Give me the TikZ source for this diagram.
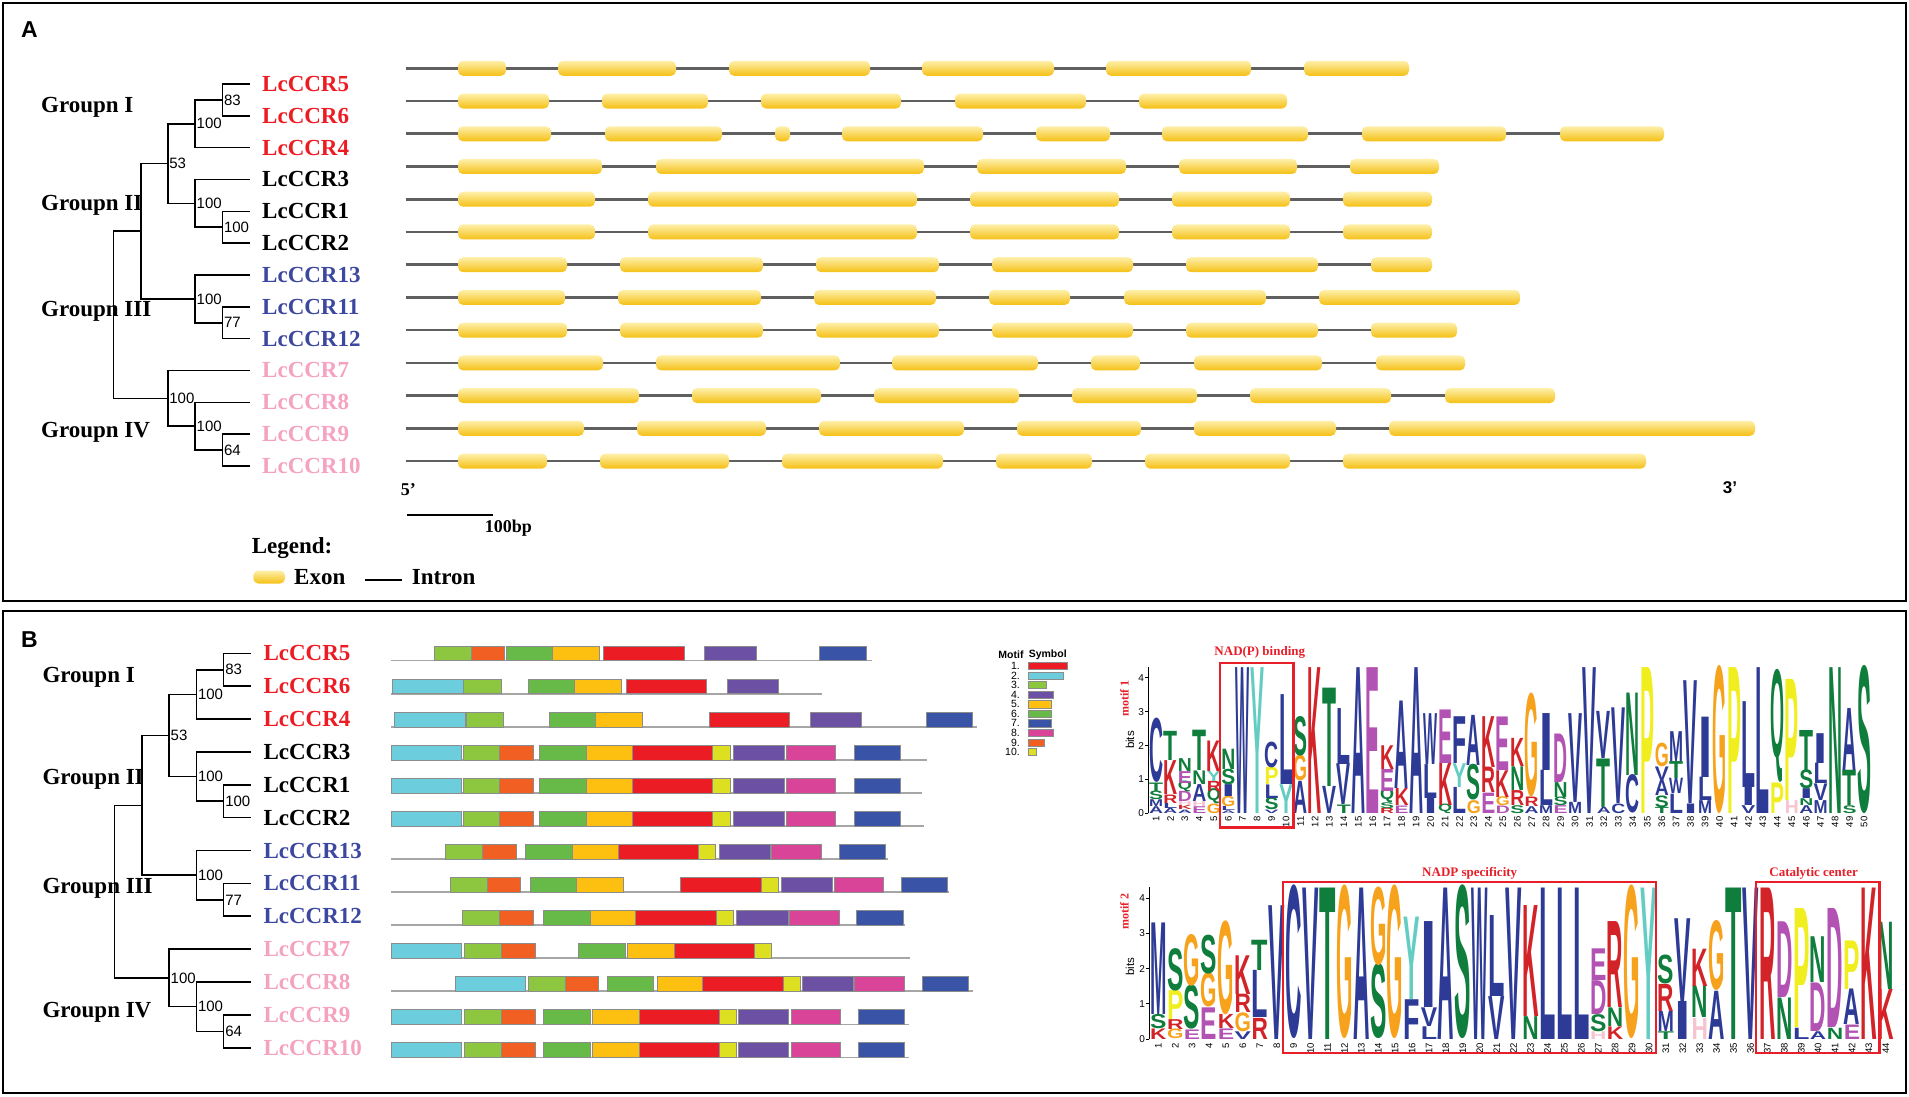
\documentclass[tikz,border=0pt]{standalone}
\usepackage{fontspec}
\setmainfont{Liberation Serif}
\setsansfont{Liberation Sans}
\usepackage{graphicx}

\definecolor{cred}{RGB}{237,28,36}
\definecolor{cblue}{RGB}{60,72,160}
\definecolor{cpink}{RGB}{245,162,192}
\definecolor{exontop}{RGB}{254,240,170}
\definecolor{exonbot}{RGB}{245,192,20}
\definecolor{introngray}{RGB}{95,95,95}
\definecolor{boxred}{RGB}{232,30,40}

\definecolor{mot1}{RGB}{236,28,36}
\definecolor{mot2}{RGB}{108,206,220}
\definecolor{mot3}{RGB}{141,198,63}
\definecolor{mot4}{RGB}{107,80,163}
\definecolor{mot5}{RGB}{254,192,16}
\definecolor{mot6}{RGB}{103,186,72}
\definecolor{mot7}{RGB}{57,84,167}
\definecolor{mot8}{RGB}{217,68,153}
\definecolor{mot9}{RGB}{241,96,34}
\definecolor{mot10}{RGB}{221,224,32}

\definecolor{lgblue}{RGB}{45,58,150}
\definecolor{lgred}{RGB}{210,35,40}
\definecolor{lggreen}{RGB}{15,125,60}
\definecolor{lgmag}{RGB}{178,82,178}
\definecolor{lgorange}{RGB}{247,162,28}
\definecolor{lgyellow}{RGB}{240,238,30}
\definecolor{lgcyan}{RGB}{100,205,195}
\definecolor{lgpink}{RGB}{246,196,208}
\colorlet{lgA}{lgblue}\colorlet{lgC}{lgblue}\colorlet{lgF}{lgblue}\colorlet{lgI}{lgblue}
\colorlet{lgL}{lgblue}\colorlet{lgM}{lgblue}\colorlet{lgV}{lgblue}\colorlet{lgW}{lgblue}
\colorlet{lgK}{lgred}\colorlet{lgR}{lgred}
\colorlet{lgN}{lggreen}\colorlet{lgQ}{lggreen}\colorlet{lgS}{lggreen}\colorlet{lgT}{lggreen}
\colorlet{lgD}{lgmag}\colorlet{lgE}{lgmag}
\colorlet{lgG}{lgorange}\colorlet{lgP}{lgyellow}\colorlet{lgY}{lgcyan}\colorlet{lgH}{lgpink}

\tikzset{
  leaf/.style={font=\fontsize{23}{23}\selectfont\bfseries, anchor=west, inner sep=0pt},
  grp/.style={font=\fontsize{23}{23}\selectfont\bfseries, anchor=west, inner sep=0pt},
  boot/.style={font=\sffamily\fontsize{15}{15}\selectfont, anchor=west, inner sep=1.5pt},
  branch/.style={line width=1.6pt},
  exon/.style={rounded corners=5pt, top color=exontop, bottom color=exonbot},
  intron/.style={draw=introngray, line width=2.6pt},
  mline/.style={draw=black!35, line width=1.5pt},
  mbox/.style={draw=black!45, line width=0.6pt},
  panel/.style={line width=2.2pt},
  panellab/.style={font=\sffamily\bfseries\fontsize{23}{23}\selectfont},
  legtext/.style={font=\fontsize{23}{23}\selectfont\bfseries, anchor=west, inner sep=0pt},
  small/.style={font=\fontsize{18}{18}\selectfont\bfseries, inner sep=0pt},
  legsans/.style={font=\sffamily\fontsize{10.5}{10.5}\selectfont, inner sep=0pt},
  logoltr/.style={font=\sffamily\bfseries, inner sep=0pt, outer sep=0pt, anchor=south},
  colnum/.style={font=\sffamily\fontsize{9.5}{9.5}\selectfont, rotate=90, anchor=east, inner sep=0.5pt},
  ticklab/.style={font=\sffamily\fontsize{10}{10}\selectfont, anchor=east, inner sep=1pt},
  axisline/.style={line width=1pt},
  motiflab/.style={font=\fontsize{12}{12}\selectfont\bfseries, text=boxred, rotate=90},
  redbox/.style={draw=boxred, line width=2.4pt},
  boxlab/.style={font=\fontsize{13}{13}\selectfont\bfseries, text=boxred}
}

% tree with labels, #1 = prefix of the names
\newcommand\cladetree[1]{%
  \foreach \nm/\i/\cl in {5/0/cred,6/1/cred,4/2/cred,3/3/black,1/4/black,2/5/black,13/6/cblue,11/7/cblue,12/8/cblue,7/9/cpink,8/10/cpink,9/11/cpink,10/12/cpink}{
    \coordinate (#1t\nm) at (250,\i);
    \node[leaf, text=\cl] (#1l\nm) at (262,\i) {LcCCR\nm};
  }
  \coordinate (#1n56) at (222.3,0.5);
  \coordinate (#1n4) at (195,1.25);
  \coordinate (#1n12) at (222.3,4.5);
  \coordinate (#1n3) at (195,3.75);
  \coordinate (#1n53) at (167.7,2.5);
  \coordinate (#1n1112) at (222.3,7.5);
  \coordinate (#1n13) at (195,6.75);
  \coordinate (#1nup) at (140.7,4.625);
  \coordinate (#1n910) at (222.3,11.5);
  \coordinate (#1n8) at (195,10.75);
  \coordinate (#1n7) at (167.7,9.875);
  \coordinate (#1root) at (113.3,7.25);
  \foreach \p/\q in {n56/t5,n56/t6,n4/n56,n4/t4,n12/t1,n12/t2,n3/t3,n3/n12,n53/n4,n53/n3,n1112/t11,n1112/t12,n13/t13,n13/n1112,nup/n53,nup/n13,n910/t9,n910/t10,n8/t8,n8/n910,n7/t7,n7/n8,root/nup,root/n7}
    \draw[branch] (#1\p) |- (#1\q);
  \foreach \p/\v in {n56/83,n4/100,n12/100,n3/100,n53/53,n1112/77,n13/100,n910/64,n8/100,n7/100}
    \node[boot] (#1b\p) at (#1\p) {\v};
  \node[grp] (#1g1) at (41,0.72) {Groupn I};
  \node[grp] (#1g2) at (41,3.82) {Groupn II};
  \node[grp] (#1g3) at (41,7.14) {Groupn III};
  \node[grp] (#1g4) at (41,10.93) {Groupn IV};
}

% one column of a logo, #1 = column, #2 = letter/bits from the bottom
\newcommand\logocol[2]{%
  \pgfmathsetmacro\lgx{\lgxo+(#1-1)*\lgstep}%
  \gdef\lgcum{0}%
  \foreach \ltr/\hgt in #2{%
    \pgfmathsetmacro\lgy{\lgbase-\lgcum*\lgunit}%
    \pgfmathsetmacro\lgh{\hgt*\lgunit}%
    \node[logoltr, text=lg\ltr] (\lgtag#1\ltr) at (\lgx,\lgy) {\resizebox{\lgwd pt}{\lgh pt}{\ltr}};
    \pgfmathsetmacro\lgnext{\lgcum+\hgt}%
    \xdef\lgcum{\lgnext}%
  }%
}

\begin{document}
\begin{tikzpicture}[x=1pt,y=-1pt]
\useasboundingbox (0,0) rectangle (1909,1096);

\draw[panel] (3,3) rectangle (1906,601);
\draw[panel] (3,611) rectangle (1906,1093);
\node[panellab] (labA) at (29.5,30) {A};
\node[panellab] (labB) at (29.5,640) {B};

\begin{scope}[shift={(0,84)},y=-31.83pt]
\cladetree{a}
\end{scope}
\begin{scope}[shift={(1.3,653.3)},y=-32.87pt]
\cladetree{b}
\end{scope}

% gene structures
\foreach \rw/\e/\ex in {0/1409/{458/506,558/676,729/870,922/1054,1106/1251,1304/1409},
  1/1287/{458/549,602/708,761/901,955/1086,1139/1287},
  2/1664/{458/551,605/722,775/790,842/983,1036/1110,1162/1308,1362/1506,1560/1664},
  3/1439/{458/602,656/924,977/1126,1179/1297,1350/1439},
  4/1432/{458/595,648/917,970/1119,1172/1290,1343/1432},
  5/1432/{458/595,648/917,970/1119,1172/1290,1343/1432},
  6/1432/{458/567,620/763,816/939,992/1133,1186/1318,1371/1432},
  7/1520/{458/565,618/761,814/936,989/1070,1124/1266,1319/1520},
  8/1457/{458/567,620/763,816/939,992/1133,1186/1318,1371/1457},
  9/1465/{458/603,656/840,892/1038,1091/1140,1194/1322,1376/1465},
  10/1555/{458/639,692/821,874/1019,1072/1197,1250/1391,1445/1555},
  11/1755/{458/584,637/766,819/964,1017/1141,1194/1336,1389/1755},
  12/1646/{458/547,600/729,782/943,996/1092,1145/1290,1343/1646}}{
  \pgfmathsetmacro\ry{68.3+\rw*32.73}
  \draw[intron] (405.5,\ry) -- (\e,\ry);
  \foreach \xs/\xe in \ex \shade[exon] (\xs,\ry-7.5) rectangle (\xe,\ry+7.5);
}
\node[small] (five) at (408.3,490) {5'};
\node[small, font=\sffamily\bfseries\fontsize{17}{17}\selectfont] (three) at (1730,488) {3'};
\coordinate (sbl) at (407.3,515);
\coordinate (sbr) at (493.3,515);
\draw[line width=1.6pt] (sbl) -- (sbr);
\node[small] (bp) at (508.3,528.3) {100bp};
\node[legtext] (legend) at (251.7,548.3) {Legend:};
\shade[exon] (253.3,570.5) rectangle (285,583.5);
\node[legtext] (exontxt) at (294,577.5) {Exon};
\coordinate (il) at (365,580);
\coordinate (ir) at (401.7,580);
\draw[line width=1.6pt] (il) -- (ir);
\node[legtext] (introntxt) at (411.7,577.5) {Intron};

% motif positions
\foreach \rw/\e/\bx in {0/872/{434/471/3,471/504/9,506/552/6,552/599/5,603/684/1,704/756/4,819/866/7},
  1/822/{392/463/2,463/501/3,528/574/6,574/621/5,626/706/1,727/778/4},
  2/977/{394/465/2,466/503/3,549/595/6,595/642/5,709/789/1,810/861/4,926/972/7},
  3/927/{391/461/2,463/499/3,499/533/9,539/586/6,586/632/5,632/712/1,712/730/10,733/784/4,786/835/8,854/900/7},
  4/922/{391/461/2,463/499/3,499/533/9,539/586/6,586/632/5,632/712/1,712/730/10,733/784/4,786/835/8,854/900/7},
  5/924/{391/461/2,463/499/3,499/533/9,539/586/6,586/632/5,632/712/1,712/730/10,733/784/4,786/835/8,854/900/7},
  6/888/{445/482/3,482/516/9,525/572/6,572/618/5,618/698/1,698/715/10,719/770/4,771/821/8,839/885/7},
  7/949/{450/487/3,487/520/9,530/576/6,576/623/5,680/761/1,761/778/10,781/832/4,834/883/8,901/947/7},
  8/905/{462/499/3,499/533/9,543/590/6,590/635/5,635/716/1,716/733/10,736/788/4,789/839/8,856/903/7},
  9/910/{391/461/2,464/501/3,501/535/9,578/625/6,627/674/5,674/754/1,754/771/10},
  10/973/{455/525/2,528/565/3,565/598/9,607/653/6,657/702/5,702/783/1,783/800/10,802/853/4,854/904/8,922/968/7},
  11/909/{391/461/2,464/501/3,501/535/9,543/590/6,592/639/5,639/719/1,719/736/10,738/788/4,791/840/8,858/904/7},
  12/909/{391/461/2,464/501/3,501/535/9,543/590/6,592/639/5,639/719/1,719/736/10,738/788/4,791/840/8,858/904/7}}{
  \pgfmathsetmacro\ry{660.7+\rw*33.05}
  \draw[mline] (391,\ry) -- (\e,\ry);
  \foreach \xs/\xe/\m in \bx \filldraw[mbox, fill=mot\m] (\xs,\ry) rectangle (\xe,\ry-14.7);
}

% motif key
\node[legsans, font=\sffamily\bfseries\fontsize{10.5}{10.5}\selectfont] (motifhd) at (1011,654.3) {Motif};
\node[legsans, font=\sffamily\bfseries\fontsize{10.5}{10.5}\selectfont] (symbolhd) at (1047.7,654.3) {Symbol};
\foreach \i/\w in {1/39.4,2/34.7,3/18.4,4/25.4,5/23,6/23,7/23,8/24.7,9/16,10/8.4}{
  \pgfmathsetmacro\ly{666+(\i-1)*9.55}
  \node[legsans, anchor=east] (mnum\i) at (1020,\ly) {\i.};
  \filldraw[mbox, fill=mot\i] (1028.3,\ly-3.6) rectangle ++(\w,7.2);
}

% motif 1 logo
\def\lgtag{mA}\def\lgbase{813.3}\def\lgunit{33.9}\def\lgxo{1156}\def\lgstep{14.45}\def\lgwd{14}
\foreach \col/\lst in {1/{A/.2,M/.2,S/.25,T/.25,C/1.87},2/{A/.15,L/.15,R/.25,K/1.0,T/.86},
  3/{A/.1,K/.12,H/.12,D/.3,Q/.25,E/.35,N/.38},4/{E/.2,H/.15,A/.5,N/.4,T/1.19},
  5/{G/.28,Q/.35,R/.3,Y/.3,K/.9},6/{A/.08,L/.12,G/.3,I/.35,S/.45,N/.6},
  7/{W/4.3},8/{Y/4.3},9/{V/.1,S/.35,L/.4,P/.5,C/.75},10/{Y/.85,L/2.65},
  11/{A/.95,G/.75,S/1.15},12/{K/4.3},13/{V/.8,T/2.9},14/{T/.25,V/1.2,L/1.65},
  15/{A/4.3},16/{E/4.3},17/{R/.15,S/.17,Q/.33,E/.65,K/.7},18/{E/.22,K/.5,A/2.58},
  19/{A/4.3},20/{I/.45,L/1.0,W/1.5},21/{Q/.22,K/1.25,E/1.58},22/{L/.77,Y/.7,F/1.38},
  23/{G/.38,S/1.04,A/1.48},24/{E/.6,R/.75,K/1.5},25/{D/.22,G/.26,K/.79,E/1.58},
  26/{S/.23,R/.44,N/.7,K/.83},27/{A/.2,R/.28,G/3.02},28/{M/.23,L/1.04,I/1.68},
  29/{E/.23,S/.25,N/.44,D/1.43},30/{M/.33,V/2.62},31/{V/4.3},32/{A/.18,T/1.43,V/1.39},
  33/{C/.28,V/2.82},34/{C/1.12,N/2.43},35/{P/4.3},36/{T/.18,S/.34,A/.45,V/.4,G/.69},
  37/{L/.57,W/.45,T/.5,M/.88},38/{I/.28,V/3.62},39/{M/.38,L/.69,I/1.78},40/{G/4.3},
  41/{P/4.3},42/{V/.23,I/.54,L/2.53},43/{L/4.3},44/{P/.9,Q/2.6},45/{H/.38,P/3.57},
  46/{A/.23,N/.2,I/.29,S/.55,T/1.18},47/{M/.38,V/.49,L/.6,I/.88},48/{N/4.3},
  49/{S/.23,T/1.04,A/1.83},50/{S/4.3}}{\logocol{\col}{\lst}}
\foreach \col in {1,...,50}{
  \pgfmathsetmacro\nx{1156+(\col-1)*14.45}
  \node[colnum] (mAn\col) at (\nx,816) {\col};
}
\draw[axisline] (1148.3,813.3) -- (1148.3,666.7);
\foreach \b in {0,...,4}{
  \pgfmathsetmacro\ty{813.3-\b*33.9}
  \draw[axisline] (1148.3,\ty) -- (1145,\ty);
  \node[ticklab] (mAt\b) at (1145,\ty) {\b};
}
\node[legsans, font=\sffamily\fontsize{11.5}{11.5}\selectfont, rotate=90] (mAbits) at (1130,740) {bits};
\node[motiflab] (mAlab) at (1124.5,698.7) {motif 1};
\draw[redbox] (1220,662.7) rectangle (1293.4,827.3);
\node[boxlab] (nadpbind) at (1259.8,652.7) {NAD(P) binding};

% motif 2 logo
\def\lgtag{mB}\def\lgbase{1039}\def\lgunit{35.2}\def\lgxo{1158.3}\def\lgstep{16.92}\def\lgwd{16.4}
\foreach \col/\lst in {1/{K/.3,S/.4,M/2.6},2/{G/.27,R/.28,P/.82,S/1.19},3/{E/.27,S/1.23,G/1.45},
  4/{E/.9,G/.96,S/1.09},5/{E/.3,K/.4,G/2.63},6/{V/.22,G/.53,R/.52,K/1.1},7/{R/.6,L/1.34,T/.86},
  8/{V/3.8},9/{C/4.3},10/{V/4.3},11/{T/4.3},12/{G/4.3},13/{A/4.3},14/{S/2.1,G/2.2},
  15/{G/4.3},16/{F/1.13,Y/2.34},17/{L/.36,V/.53,I/2.44},18/{A/4.3},19/{S/4.3},20/{W/4.3},
  21/{V/1.22,L/2.3},22/{V/4.3},23/{N/.65,K/3.15},24/{L/4.3},25/{L/4.3},26/{L/4.3},
  27/{H/.22,S/.48,D/.96,E/.9},28/{K/.36,N/.53,R/2.44},29/{G/4.3},30/{Y/4.3},
  31/{T/.22,M/.57,R/.77,S/.81},32/{I/1.08,V/2.35},33/{H/.6,N/.9,K/1.06},34/{A/1.37,G/1.96},
  35/{T/4.3},36/{V/4.3},37/{R/4.3},38/{N/1.18,D/2.15},39/{L/.32,P/3.38},40/{A/.22,D/1.38,N/1.3},
  41/{N/.32,D/3.38},42/{E/.41,A/1.01,P/1.38},43/{K/4.3},44/{K/1.42,N/1.91}}{\logocol{\col}{\lst}}
\foreach \col in {1,...,44}{
  \pgfmathsetmacro\nx{1158.3+(\col-1)*16.92}
  \node[colnum] (mBn\col) at (\nx,1042) {\col};
}
\draw[axisline] (1149.3,1039) -- (1149.3,886.7);
\foreach \b in {0,...,4}{
  \pgfmathsetmacro\ty{1039-\b*35.2}
  \draw[axisline] (1149.3,\ty) -- (1146,\ty);
  \node[ticklab] (mBt\b) at (1146,\ty) {\b};
}
\node[legsans, font=\sffamily\fontsize{11.5}{11.5}\selectfont, rotate=90] (mBbits) at (1130,966.7) {bits};
\node[motiflab] (mBlab) at (1124.5,911.7) {motif 2};
\draw[redbox] (1283.2,881.7) rectangle (1656.2,1052.7);
\node[boxlab] (nadpspec) at (1469.7,873) {NADP specificity};
\draw[redbox] (1756.1,881.7) rectangle (1879.4,1052.7);
\node[boxlab] (catcenter) at (1813.6,873) {Catalytic center};
\end{tikzpicture}
\end{document}
